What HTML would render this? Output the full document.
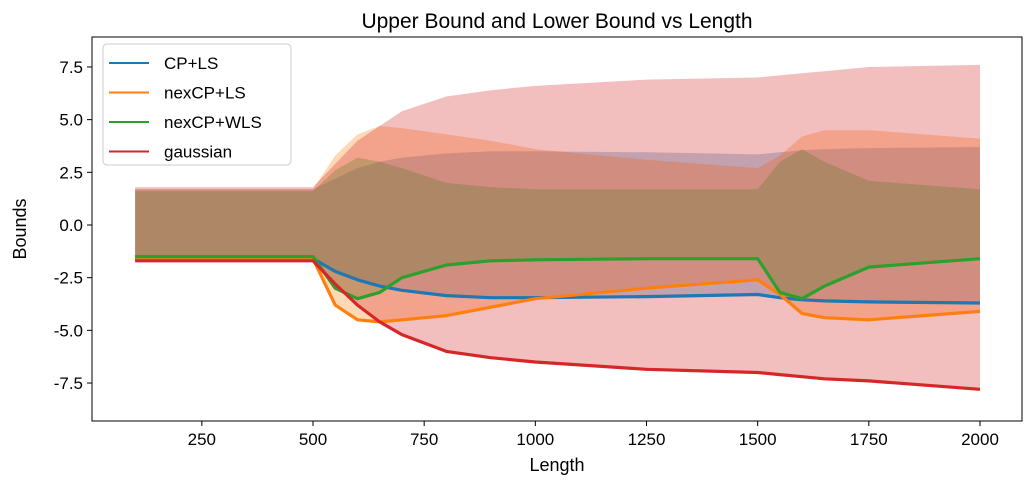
<!DOCTYPE html>
<html><head><meta charset="utf-8"><style>
body{margin:0;background:#fff}
svg{font-family:"Liberation Sans","DejaVu Sans",sans-serif}
</style></head><body>
<svg id="chart" width="1031" height="484">
<text x="557" y="28" font-size="21" text-anchor="middle">Upper Bound and Lower Bound vs Length</text>
<g id="fills"></g><g id="lines"></g>
<rect x="92" y="37" width="930" height="384" fill="none" stroke="#000" stroke-width="1"/>
<g id="axes"></g>
<text x="557" y="471" font-size="18" text-anchor="middle">Length</text>
<text x="26" y="229" font-size="18" text-anchor="middle" transform="rotate(-90 26 229)">Bounds</text>
<g>
<rect x="103" y="44" width="188" height="121" rx="4" fill="#fff" fill-opacity="0.8" stroke="#ccc"/>
<g id="legend"></g>
</g>
</svg>
<script>
const knots=[100,500,550,600,650,700,800,900,1000,1250,1500,1550,1600,1650,1750,2000];
const seriesNames=["CP+LS","nexCP+LS","nexCP+WLS","gaussian"];
const colors=["#1f77b4","#ff7f0e","#2ca02c","#d62728"];
const cpLower=[-1.6,-1.6,-2.2,-2.6,-2.9,-3.1,-3.35,-3.45,-3.45,-3.4,-3.3,-3.45,-3.55,-3.6,-3.65,-3.7];
const cpUpper=[1.7,1.7,2.2,2.7,3.0,3.2,3.4,3.5,3.5,3.45,3.35,3.45,3.55,3.6,3.65,3.7];
const nexLower=[-1.6,-1.6,-3.8,-4.5,-4.6,-4.5,-4.3,-3.9,-3.5,-3.0,-2.6,-3.3,-4.2,-4.4,-4.5,-4.1];
const nexUpper=[1.7,1.7,3.3,4.3,4.7,4.6,4.3,4.0,3.6,3.1,2.7,3.3,4.2,4.5,4.5,4.1];
const wlsLower=[-1.5,-1.5,-3.0,-3.5,-3.2,-2.5,-1.9,-1.7,-1.65,-1.6,-1.6,-3.2,-3.5,-2.9,-2.0,-1.6];
const wlsUpper=[1.6,1.6,2.6,3.2,3.0,2.7,2.0,1.8,1.7,1.7,1.7,3.0,3.6,3.0,2.1,1.7];
const gLower=[-1.7,-1.7,-2.8,-3.8,-4.6,-5.2,-6.0,-6.3,-6.5,-6.85,-7.0,-7.1,-7.2,-7.3,-7.4,-7.8];
const gUpper=[1.8,1.8,2.9,4.0,4.7,5.4,6.1,6.4,6.6,6.9,7.0,7.1,7.2,7.3,7.5,7.6];
const xTicks=[250,500,750,1000,1250,1500,1750,2000];
const yTicks=[-7.5,-5.0,-2.5,0.0,2.5,5.0,7.5];
const lowers=[cpLower,nexLower,wlsLower,gLower];
const uppers=[cpUpper,nexUpper,wlsUpper,gUpper];
const NS="http://www.w3.org/2000/svg";
const xs=v=>313+(v-500)*0.44467;
const ys=v=>225-v*21.07;
function mk(t,a,p){const e=document.createElementNS(NS,t);for(const k in a)e.setAttribute(k,a[k]);p.appendChild(e);return e;}
const fills=document.getElementById('fills'),lines=document.getElementById('lines'),axes=document.getElementById('axes'),leg=document.getElementById('legend');
for(let s=0;s<4;s++){
  let d="";knots.forEach((k,i)=>d+=(i?"L":"M")+xs(k).toFixed(1)+","+ys(uppers[s][i]).toFixed(1));
  for(let i=knots.length-1;i>=0;i--)d+="L"+xs(knots[i]).toFixed(1)+","+ys(lowers[s][i]).toFixed(1);
  const f=mk('path',{d:d+"Z",fill:colors[s],'fill-opacity':0.3},fills);
  
  
}
for(let s=0;s<4;s++){
  let d="";knots.forEach((k,i)=>d+=(i?"L":"M")+xs(k).toFixed(1)+","+ys(lowers[s][i]).toFixed(1));
  const l=mk('path',{d:d,fill:'none',stroke:colors[s],'stroke-width':3.2,'stroke-linejoin':'round'},lines);
  
  
}
xTicks.forEach(t=>{const x=xs(t);
  mk('line',{x1:x,x2:x,y1:421,y2:426,stroke:'#000'},axes);
  const tx=mk('text',{x:x,y:445,'font-size':17,'text-anchor':'middle'},axes);tx.textContent=t;
  
  
});
yTicks.forEach(t=>{const y=ys(t);
  mk('line',{x1:87,x2:92,y1:y,y2:y,stroke:'#000'},axes);
  const tx=mk('text',{x:83,y:y+6,'font-size':17,'text-anchor':'end'},axes);tx.textContent=t.toFixed(1);
  
  
});
seriesNames.forEach((n,i)=>{const y=63+i*29.5;
  mk('line',{x1:109,x2:149,y1:y,y2:y,stroke:colors[i],'stroke-width':2},leg);
  const tx=mk('text',{x:164,y:y+6,'font-size':17},leg);tx.textContent=n;
  
  
});
</script>
</body></html>
